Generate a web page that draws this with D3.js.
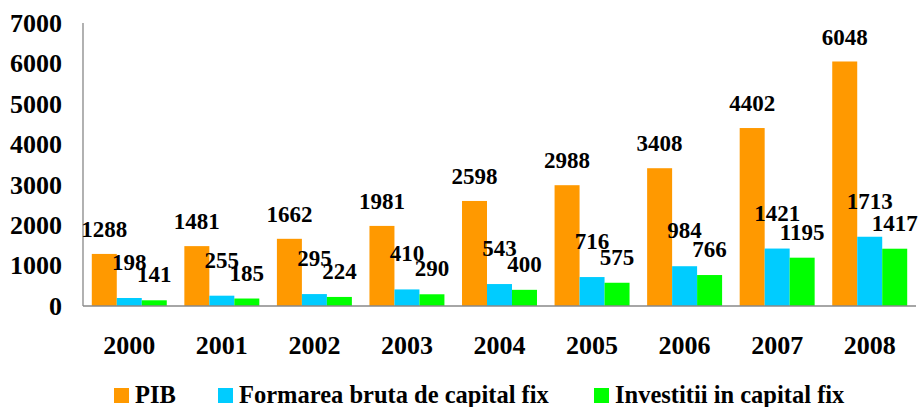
<!DOCTYPE html>
<html><head><meta charset="utf-8">
<script src="https://cdn.jsdelivr.net/npm/d3@7"></script>
<style>body{margin:0;background:#fff}svg{display:block}
svg text{font-family:"Liberation Serif","Times New Roman",serif !important;font-weight:bold}</style>
</head><body>
<svg id="c" width="920" height="407"></svg>
<script>
const years = ["2000","2001","2002","2003","2004","2005","2006","2007","2008"];
const pib = [1288,1481,1662,1981,2598,2988,3408,4402,6048];
const fbcf = [198,255,295,410,543,716,984,1421,1713];
const inv = [141,185,224,290,400,575,766,1195,1417];
const seriesNames = ["PIB","Formarea bruta de capital fix","Investitii in capital fix"];
const colors = ["#FF9900","#00CCFF","#00FF00"];
const yTicks = [0,1000,2000,3000,4000,5000,6000,7000];
const labelOffsets = [25,36,26];

const seriesVals = [pib, fbcf, inv];
const svg = d3.select("#c");
const L = 83, R = 916, T = 23, B = 306;
const x = d3.scaleBand().domain(years).range([L, R]).paddingInner(0.19).paddingOuter(0.095);
const xs = d3.scaleBand().domain([0,1,2]).range([0, x.bandwidth()]);
const y = d3.scaleLinear().domain([0,7000]).range([B, T]);

svg.append("line").attr("x1",L).attr("x2",L).attr("y1",T).attr("y2",B).attr("stroke","#888").attr("stroke-width",1.3);

const yAxis = d3.axisLeft(y).tickValues(yTicks).tickSize(0).tickPadding(21).tickFormat(d3.format("d"));
const gy = svg.append("g").attr("transform",`translate(${L},0)`).call(yAxis);
gy.select(".domain").remove();
gy.selectAll("text").attr("font-size",26).attr("fill","#000");

seriesVals.forEach((vals,si)=>{
  svg.append("g").selectAll("rect").data(vals).join("rect")
    .attr("x",(d,i)=>x(years[i])+xs(si))
    .attr("width",xs.bandwidth())
    .attr("y",d=>y(d))
    .attr("height",d=>B-y(d))
    .attr("fill",colors[si]);
});

const xAxis = d3.axisBottom(x).tickSize(0).tickPadding(30);
const gx = svg.append("g").attr("transform",`translate(0,${B})`).call(xAxis);
gx.select(".domain").remove();
gx.selectAll("text").attr("font-size",26).attr("fill","#000");
svg.append("line").attr("x1",L).attr("x2",R).attr("y1",B).attr("y2",B).attr("stroke","#888").attr("stroke-width",1.3);

seriesVals.forEach((vals,si)=>{
  svg.append("g").selectAll("text").data(vals).join("text")
    .attr("x",(d,i)=>x(years[i])+xs(si)+xs.bandwidth()/2)
    .attr("y",d=>y(d)-labelOffsets[si])
    .attr("dy","0.35em")
    .attr("text-anchor","middle")
    .attr("font-size",23)
    .text(d=>d);
});

const legX = [114, 218, 594];
const lg = svg.append("g");
seriesNames.forEach((n,i)=>{
  lg.append("rect").attr("x",legX[i]).attr("y",388).attr("width",15).attr("height",15).attr("fill",colors[i]);
  lg.append("text").attr("x",legX[i]+21).attr("y",403).attr("font-size",24.5).text(n);
});
</script>
</body></html>
